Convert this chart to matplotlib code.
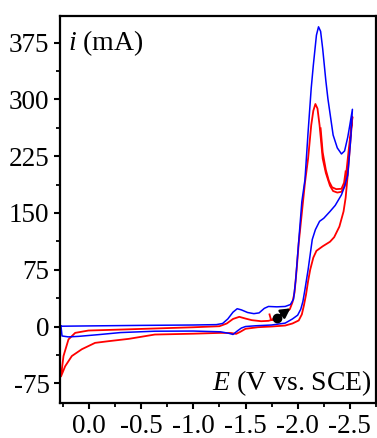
import numpy as np
from matplotlib import pyplot as plt
from matplotlib.ticker import MultipleLocator

# blue CV (E in V vs SCE, i in mA)
blue_E = [0.27, 0.0, -0.5, -1.0, -1.22, -1.28, -1.33, -1.38, -1.42, -1.46, -1.52, -1.58,
          -1.63, -1.68, -1.72, -1.80, -1.88, -1.93, -1.96, -1.98, -2.00, -2.02, -2.04,
          -2.07, -2.10, -2.13, -2.15, -2.18, -2.20, -2.22, -2.24, -2.27, -2.29, -2.34,
          -2.38, -2.42, -2.45, -2.48, -2.50, -2.525,
          -2.51, -2.48, -2.45, -2.42, -2.36, -2.31, -2.25, -2.21, -2.17, -2.14, -2.12,
          -2.10, -2.07, -2.05, -2.03, -2.00, -1.95, -1.88, -1.75, -1.60, -1.50, -1.46,
          -1.42, -1.38, -1.34, -1.26, -1.0, -0.63, -0.3, -0.1, 0.1, 0.2, 0.26, 0.27]
blue_i = [0.4, 0.8, 1.5, 2.0, 2.5, 4, 10, 19, 23.5, 22, 18.5, 17,
          18, 24, 26.5, 26, 26.5, 29, 36, 60, 95, 130, 165,
          194, 257, 315, 345, 385, 396, 390, 367, 325, 301, 253,
          236, 228, 232, 250, 266, 287,
          250, 200, 185, 174, 160, 152, 143, 139, 128, 115, 95,
          75, 49, 33, 23, 15, 10, 4.5, 2, 1, 0, -2,
          -6, -10.5, -9, -7, -6, -6.2, -8, -10.6, -13, -13.7, -12.5, 0.4]

# red CV
red_E = [-1.73, -1.745, -1.80, -1.86, -1.925, -1.95, -1.97, -1.99, -2.01, -2.04, -2.07,
         -2.10, -2.13, -2.15, -2.17, -2.19, -2.21, -2.24, -2.27, -2.31, -2.34, -2.38,
         -2.42, -2.45, -2.47, -2.49, -2.525,
         -2.50, -2.48, -2.46, -2.44, -2.40, -2.35, -2.31, -2.24, -2.18, -2.15, -2.12,
         -2.10, -2.08, -2.06, -2.04, -2.01, -1.95, -1.88, -1.75, -1.62, -1.50, -1.45,
         -1.41, -1.36, -1.26, -1.0, -0.63, -0.38, -0.185, -0.057, 0.07, 0.166, 0.23, 0.27,
         0.246, 0.198, 0.134, 0.007, -0.31, -0.63, -1.0, -1.25, -1.32, -1.38, -1.44,
         -1.50, -1.56, -1.65, -1.72, -1.77, -1.80]
red_i = [16, 8.5, 11.5, 16, 23, 32, 45, 75, 110, 150, 190,
         222, 266, 285, 294, 288, 266, 222, 203, 186, 179, 177,
         178, 186, 208, 234, 277,
         235, 200, 170, 152, 132, 118, 112, 106, 100, 91, 75,
         60, 42, 28, 16, 8, 4, 1.3, 0, -0.9, -3, -7,
         -9.7, -8.6, -8.4, -9.5, -10.6, -16.3, -19.4, -21.6, -30, -39, -52.5, -66,
         -39, -17, -8.4, -5.3, -4, -2.6, -1, 0.4, 4, 10, 12.8,
         10.5, 8.4, 7, 7.5, 9.5, 11.5]

# second red cycle where it does not overlap the first
red2_E = [-2.22, -2.24, -2.27, -2.30, -2.33, -2.37, -2.42, -2.445, -2.46]
red2_i = [262, 230, 207, 192, 184, 181.5, 182, 190, 205]

start_E, start_i = -1.80, 11.5
arrow_E, arrow_i = -1.93, 24

plt.rcParams['font.family'] = 'Liberation Serif'
plt.rcParams['mathtext.fontset'] = 'custom'
plt.rcParams['mathtext.rm'] = 'Liberation Serif'
plt.rcParams['mathtext.it'] = 'Liberation Serif:italic'
plt.rcParams['axes.unicode_minus'] = False

fig = plt.figure(figsize=(3.77, 4.38), dpi=100)
ax = fig.add_axes([0.159, 0.08, 0.838, 0.883])

ax.plot(red_E, red_i, color='red', lw=1.3)
ax.plot(red2_E, red2_i, color='red', lw=1.3)
ax.plot(blue_E, blue_i, color='blue', lw=1.1)

ax.plot(start_E, start_i, 'o', color='black', ms=6)
ax.annotate('', xy=(arrow_E, arrow_i), xytext=(start_E, start_i),
            arrowprops=dict(arrowstyle='-|>,head_length=0.55,head_width=0.3',
                            color='black', lw=1.8, shrinkA=0, shrinkB=0,
                            mutation_scale=10))

ax.set_xlim(0.28, -2.75)
ax.set_ylim(-101, 410)
ax.xaxis.set_major_locator(MultipleLocator(0.5))
ax.xaxis.set_minor_locator(MultipleLocator(0.25))
ax.yaxis.set_major_locator(MultipleLocator(75))
ax.yaxis.set_minor_locator(MultipleLocator(37.5))
ax.xaxis.set_major_formatter(lambda v, p: f"{v:.1f}")

ax.tick_params(which='major', direction='out', length=4.5, width=1.5,
               labelsize=19.5, pad=3)
ax.tick_params(axis='x', which='major', pad=3.5)
ax.tick_params(which='minor', direction='out', length=3, width=1.3)
for s in ax.spines.values():
    s.set_linewidth(1.6)

ax.text(0.025, 0.93, r"$i$ (mA)", transform=ax.transAxes, fontsize=20,
        ha='left', va='center')
ax.text(0.988, 0.052, r"$E$ (V vs. SCE)", transform=ax.transAxes, fontsize=20,
        ha='right', va='center')

fig.savefig('out.png', dpi=100)
